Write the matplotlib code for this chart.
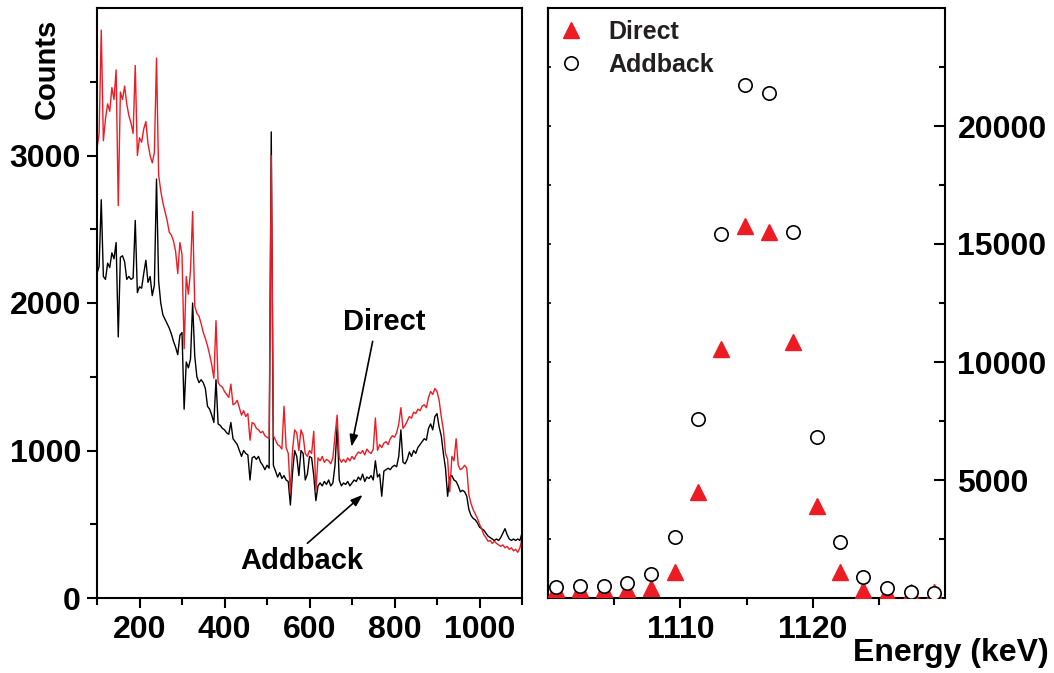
import numpy as np
import matplotlib
matplotlib.use("Agg")
import matplotlib.pyplot as plt

plt.rcParams['font.family'] = ['Liberation Sans', 'DejaVu Sans']
plt.rcParams['font.weight'] = 'bold'

# ---------------- Left panel data: spectra (keV, counts) ----------------
energy_start, energy_stop, energy_step = 100, 1100, 5
energy = np.arange(energy_start, energy_stop + 1, energy_step)

direct_counts = [
    3050, 3150, 3850, 3100, 3250, 3350, 3300, 3460, 3380, 3580,   # 100-145
    2660, 3430, 3380, 3470, 3350, 3270, 3220, 3150, 3610, 3000,   # 150-195
    3120, 3090, 3180, 3230, 3080, 3000, 2950, 3020, 3660, 2870,   # 200-245
    2760, 2680, 2620, 2560, 2480, 2460, 2420, 2350, 2200, 2410,   # 250-295
    2330, 1690, 2180, 2060, 2220, 2620, 1980, 1930, 1910, 1860,   # 300-345
    1800, 1760, 1710, 1650, 1580, 1490, 1880, 1460, 1440, 1430,   # 350-395
    1400, 1380, 1360, 1450, 1310, 1320, 1340, 1290, 1240, 1270,   # 400-445
    1230, 1250, 1070, 1190, 1180, 1150, 1140, 1120, 1130, 1100,   # 450-495
    1090, 1080, 3000, 1100, 1070, 1040, 1030, 1010, 1300, 1020,   # 500-545
    980, 710, 1000, 1140, 1120, 1000, 1140, 1100, 980, 960,       # 550-595
    1000, 980, 1130, 720, 950, 930, 960, 920, 940, 930,           # 600-645
    910, 950, 1100, 1240, 950, 920, 940, 920, 950, 930,           # 650-695
    960, 940, 970, 990, 980, 1000, 970, 1010, 990, 980,           # 700-745
    1010, 1220, 1000, 1040, 1020, 1050, 1060, 1040, 1080, 1100,   # 750-795
    1090, 1120, 1180, 1290, 1150, 1170, 1200, 1230, 1220, 1260,   # 800-845
    1250, 1280, 1270, 1300, 1310, 1290, 1360, 1400, 1380, 1420,   # 850-895
    1400, 1340, 1230, 1140, 980, 940, 720, 960, 930, 1080,        # 900-945
    900, 870, 880, 900, 880, 700, 640, 600, 570, 540,             # 950-995
    500, 470, 430, 410, 385, 390, 370, 385, 370, 360,             # 1000-1045
    350, 360, 340, 350, 330, 340, 320, 330, 310, 340,             # 1050-1095
    400,                                                          # 1100
]

addback_counts = [
    2200, 2250, 2700, 2180, 2160, 2270, 2240, 2340, 2300, 2410,   # 100-145
    1770, 2310, 2320, 2280, 2160, 2180, 2160, 2170, 2560, 2070,   # 150-195
    2110, 2100, 2200, 2290, 2140, 2180, 2050, 2120, 2840, 2150,   # 200-245
    2000, 1920, 1890, 1860, 1830, 1790, 1740, 1700, 1650, 1780,   # 250-295
    1800, 1280, 1600, 1560, 1620, 2000, 1640, 1500, 1460, 1480,   # 300-345
    1460, 1420, 1300, 1280, 1240, 1190, 1480, 1180, 1170, 1150,   # 350-395
    1140, 1120, 1110, 1190, 1080, 1060, 1040, 1000, 960, 1000,    # 400-445
    980, 970, 800, 950, 960, 940, 960, 920, 900, 870,             # 450-495
    900, 880, 3160, 900, 860, 820, 850, 810, 830, 800,            # 500-545
    790, 630, 850, 1000, 960, 830, 1000, 980, 800, 840,           # 550-595
    960, 950, 830, 660, 760, 780, 760, 790, 770, 800,             # 600-645
    760, 780, 900, 1170, 800, 760, 780, 770, 790, 760,            # 650-695
    780, 800, 790, 820, 800, 840, 790, 820, 810, 830,             # 700-745
    800, 930, 820, 840, 690, 860, 870, 880, 870, 890,             # 750-795
    900, 890, 960, 1140, 920, 910, 940, 990, 960, 1000,           # 800-845
    980, 1020, 1040, 1060, 1080, 1070, 1150, 1180, 1140, 1230,    # 850-895
    1250, 1160, 1100, 980, 880, 690, 820, 830, 800, 790,          # 900-945
    760, 720, 730, 720, 690, 600, 560, 540, 530, 510,             # 950-995
    480, 470, 460, 440, 420, 410, 400, 390, 400, 390,             # 1000-1045
    410, 440, 470, 430, 400, 390, 400, 390, 400, 390,             # 1050-1095
    440,                                                          # 1100
]

# ---------------- Right panel data: peak region ----------------
peak_energy = [1100.6, 1102.4, 1104.2, 1106.0, 1107.8, 1109.6, 1111.3, 1113.1,
               1114.9, 1116.7, 1118.5, 1120.3, 1122.1, 1123.8, 1125.6, 1127.4, 1129.2]
peak_direct = [380, 400, 400, 400, 430, 1085, 4475, 10550,
               15750, 15490, 10830, 3880, 1085, 320, 250, 250, 250]
peak_addback = [466, 492, 521, 619, 1030, 2585, 7585, 15420,
                21740, 21400, 15520, 6805, 2386, 890, 407, 237, 212]

RED = '#ed1c24'
TXT = '#231f20'

W, H = 1054, 673
fig = plt.figure(figsize=(W / 100, H / 100), dpi=100)
ax1 = fig.add_axes([97 / W, 75 / H, 425 / W, 590 / H])
ax2 = fig.add_axes([548 / W, 75 / H, 397 / W, 590 / H])

# ---- Left panel ----
ax1.plot(energy, addback_counts, color='black', lw=1.0)
ax1.plot(energy, direct_counts, color=RED, lw=1.0)
ax1.set_xlim(100, 1100)
ax1.set_ylim(0, 4000)
ax1.set_xticks([200, 400, 600, 800, 1000])
ax1.set_xticks(np.arange(100, 1101, 200), minor=True)
ax1.set_yticks([0, 1000, 2000, 3000])
ax1.set_yticks([500, 1500, 2500, 3500], minor=True)
ax1.tick_params(which='both', direction='out', width=1.5, labelsize=23,
                top=False, right=False)
ax1.tick_params(which='major', length=7.5)
ax1.tick_params(which='minor', length=5)
ax1.tick_params(axis='x', pad=5)
ax1.tick_params(axis='y', pad=4)
for sp in ax1.spines.values():
    sp.set_linewidth(1.5)

ax1.text(776, 1870, 'Direct', fontsize=21, fontweight='bold', ha='center',
         va='center', color='black')
ax1.annotate('', xy=(698.6, 1025), xytext=(748.6, 1740),
             arrowprops=dict(arrowstyle='-|>,head_length=0.7,head_width=0.25',
                             lw=1.2, color='black', shrinkA=0, shrinkB=0))
ax1.text(582, 251, 'Addback', fontsize=21, fontweight='bold', ha='center',
         va='center', color='black')
ax1.annotate('', xy=(725, 699), xytext=(595, 371),
             arrowprops=dict(arrowstyle='-|>,head_length=0.7,head_width=0.25',
                             lw=1.2, color='black', shrinkA=0, shrinkB=0))

fig.text(47 / W, 1 - 69 / H, 'Counts', rotation=90, fontsize=21,
         fontweight='bold', ha='center', va='center')

# ---- Right panel ----
ax2.plot(peak_energy, peak_direct, linestyle='none', marker='^', ms=11,
         color=RED, mec=RED, label='Direct', zorder=3)
ax2.plot(peak_energy, peak_addback, linestyle='none', marker='o', ms=9.6,
         mfc='white', mec='black', mew=1.2, label='Addback', zorder=4)
ax2.set_xlim(1100, 1130)
ax2.set_ylim(0, 25000)
ax2.set_xticks([1110, 1120])
ax2.set_xticks([1105, 1115, 1125], minor=True)
ax2.set_yticks([5000, 10000, 15000, 20000])
ax2.set_yticks([2500, 7500, 12500, 17500, 22500], minor=True)
ax2.yaxis.tick_right()
ax2.tick_params(axis='x', which='both', direction='out', width=1.5,
                labelsize=23, top=False, pad=5)
ax2.tick_params(axis='x', which='major', length=7.5)
ax2.tick_params(axis='x', which='minor', length=5)
ax2.tick_params(axis='y', which='both', direction='in', width=1.5,
                labelsize=23, left=False, right=True, labelleft=False,
                labelright=True, pad=9)
ax2.tick_params(axis='y', which='major', length=8)
ax2.tick_params(axis='y', which='minor', length=4.5)
for sp in ax2.spines.values():
    sp.set_linewidth(1.5)

sec = ax2.secondary_yaxis('left')
sec.set_yticks([2500, 5000, 7500, 10000, 12500, 15000, 17500, 20000, 22500])
sec.tick_params(direction='in', length=2.5, width=1.2, labelleft=False)
sec.spines['left'].set_linewidth(1.5)

leg = ax2.legend(loc='upper left', bbox_to_anchor=(0.0, 0.9966), frameon=False,
                 handlelength=1.0, handletextpad=1.0,
                 labelspacing=0.36, borderaxespad=0.2, borderpad=0.2,
                 prop={'weight': 'bold', 'size': 18})
for t in leg.get_texts():
    t.set_color(TXT)

fig.text(1049 / W, (H - 653) / H, 'Energy (keV)', fontsize=23,
         fontweight='bold', ha='right', va='center')

fig.savefig('out.png', dpi=100)
